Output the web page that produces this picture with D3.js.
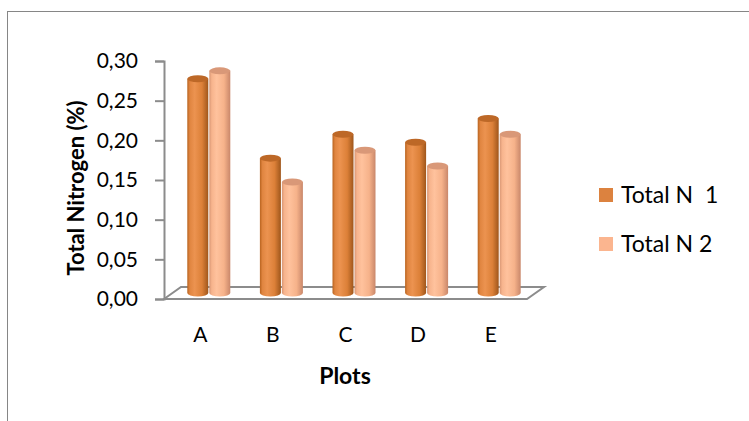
<!DOCTYPE html>
<html>
<head>
<meta charset="utf-8">
<script src="https://cdn.jsdelivr.net/npm/d3@7"></script>
<style>
  html, body { margin: 0; padding: 0; background: #fff; }
  svg { display: block; font-family: Lato, "Open Sans", sans-serif; }
</style>
</head>
<body>
<svg id="chart" width="749" height="421"></svg>
<script>
// Total nitrogen per plot, two sampling rounds
const categories = ["A", "B", "C", "D", "E"];
const seriesNames = ["Total N  1", "Total N 2"];
const totalN1 = [0.27, 0.17, 0.20, 0.19, 0.22];
const totalN2 = [0.28, 0.14, 0.18, 0.16, 0.20];
const yTicks = [0, 0.05, 0.10, 0.15, 0.20, 0.25, 0.30];

const seriesValues = [totalN1, totalN2];
const svg = d3.select("#chart");

// outer chart frame (runs off the right and bottom edges)
svg.append("rect")
  .attr("x", 7.5).attr("y", 11.5)
  .attr("width", 800).attr("height", 500)
  .attr("fill", "#fff").attr("stroke", "#868686").attr("stroke-width", 1);

// 3D layout: front plane scales plus a depth offset for the floor
const depth = { dx: 17, dy: -12 };
const x = d3.scaleBand().domain(categories).range([164, 527]).paddingInner(0).paddingOuter(0);
const y = d3.scaleLinear().domain([0, 0.30]).range([299, 61]);

// gradients for cylinders
const defs = svg.append("defs");
const palettes = [
  { stops: [["0%", "#b8631f"], ["12%", "#e08540"], ["35%", "#ec9350"], ["70%", "#dc8038"], ["100%", "#9f561b"]], top: "#bd6827" },
  { stops: [["0%", "#d89674"], ["12%", "#f7b48d"], ["35%", "#ffc29d"], ["70%", "#f6b28a"], ["100%", "#c9876a"]], top: "#d99878" }
];
palettes.forEach((p, i) => {
  const g = defs.append("linearGradient").attr("id", "cyl" + i)
    .attr("x1", "0%").attr("x2", "100%").attr("y1", "0%").attr("y2", "0%");
  p.stops.forEach(s => g.append("stop").attr("offset", s[0]).attr("stop-color", s[1]));
});

// floor parallelogram
const floorY = y(0);
const floorPts = [
  [x.range()[0], floorY],
  [x.range()[0] + depth.dx, floorY + depth.dy],
  [x.range()[1] + depth.dx, floorY + depth.dy],
  [x.range()[1], floorY]
];
svg.append("path")
  .attr("d", d3.line()(floorPts) + "Z")
  .attr("fill", "none").attr("stroke", "#8c8c8c").attr("stroke-width", 2)
  .attr("stroke-linejoin", "miter");

// value axis
const yAxis = d3.axisLeft(y).tickValues(yTicks).tickSize(9).tickPadding(17)
  .tickFormat(d => d3.format(".2f")(d).replace(".", ","));
const yAxisG = svg.append("g").attr("transform", `translate(${x.range()[0]},0)`).call(yAxis);
yAxisG.select(".domain").attr("stroke", "#8c8c8c").attr("stroke-width", 2);
yAxisG.selectAll(".tick line").attr("stroke", "#8c8c8c").attr("stroke-width", 2);
yAxisG.selectAll(".tick text").attr("font-size", 21).attr("fill", "#000")
  .attr("font-family", "Lato, 'Open Sans', sans-serif");

// category labels
svg.append("g").selectAll("text").data(categories).join("text")
  .attr("x", d => x(d) + x.bandwidth() / 2)
  .attr("y", 342)
  .attr("text-anchor", "middle")
  .attr("font-size", 21)
  .text(d => d);

// cylinders, placed at mid depth
const barW = 21;
const ry = 3.5;
const midDx = depth.dx / 2, midDy = depth.dy / 2;
const bars = [];
categories.forEach((c, ci) => {
  seriesValues.forEach((vals, si) => {
    const cx = x(c) + x.bandwidth() / 2 + midDx + (si - 1) * barW + barW / 2 + (si === 0 ? -0.5 : 0.5);
    bars.push({ c, si, v: vals[ci], cx });
  });
});
const barG = svg.append("g");
bars.forEach(b => {
  const base = y(0) + midDy;
  const top = y(b.v) + midDy;
  const g = barG.append("g");
  const x0 = b.cx - barW / 2;
  g.append("path")
    .attr("d", `M${x0},${top} L${x0},${base} A${barW / 2},${ry} 0 0 0 ${x0 + barW},${base} L${x0 + barW},${top} Z`)
    .attr("fill", `url(#cyl${b.si})`);
  g.append("ellipse")
    .attr("cx", b.cx).attr("cy", top)
    .attr("rx", barW / 2).attr("ry", ry)
    .attr("fill", palettes[b.si].top);
});

// axis titles
svg.append("text")
  .attr("x", 345).attr("y", 384)
  .attr("text-anchor", "middle")
  .attr("font-size", 23).attr("font-weight", "bold")
  .text("Plots");
svg.append("text")
  .attr("transform", `translate(84,188) rotate(-90)`)
  .attr("text-anchor", "middle")
  .attr("font-size", 22).attr("font-weight", "bold")
  .text("Total Nitrogen (%)");

// legend
const legendColors = ["#dc823f", "#fbb58f"];
const legend = svg.append("g").selectAll("g").data(seriesNames).join("g")
  .attr("transform", (d, i) => `translate(599,${188 + i * 49})`);
legend.append("rect").attr("width", 14).attr("height", 14)
  .attr("fill", (d, i) => legendColors[i]);
legend.append("text").attr("x", 22).attr("y", 15)
  .attr("font-size", 23).attr("xml:space", "preserve").style("white-space", "pre")
  .text(d => d);
</script>
</body>
</html>
